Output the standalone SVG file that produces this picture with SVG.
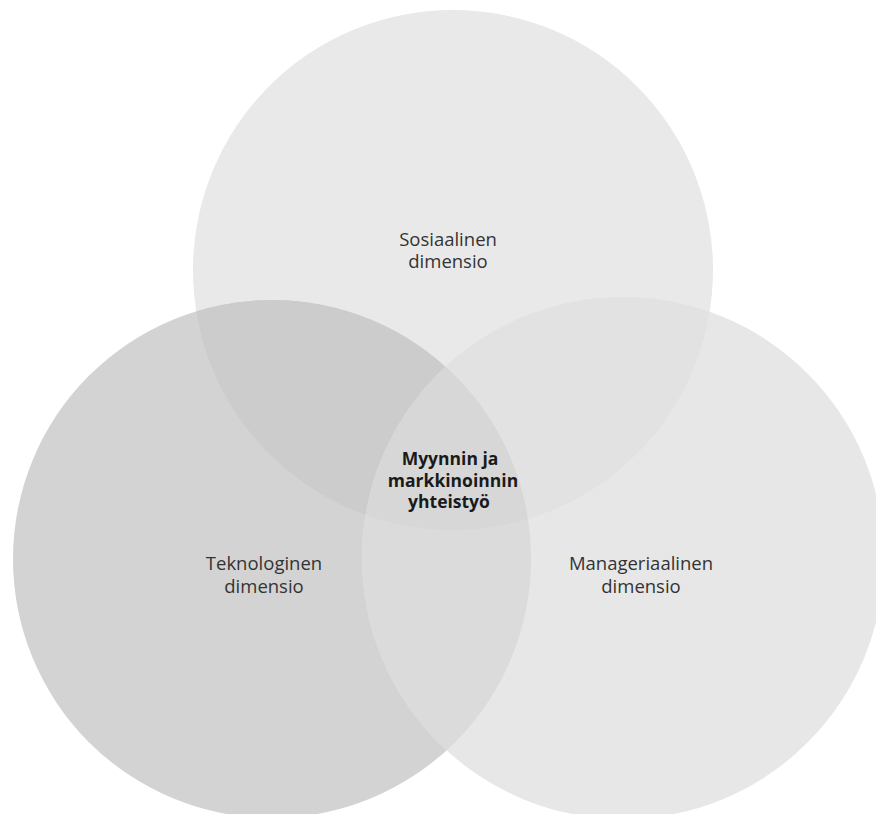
<svg xmlns="http://www.w3.org/2000/svg" width="876" height="814" viewBox="0 0 876 814">
  <style>
    .lbl { font-family: "Open Sans", "Liberation Sans", sans-serif; font-size: 18.5px; fill: #333333; text-anchor: middle; }
    .ctr { font-family: "Open Sans", "Liberation Sans", sans-serif; font-size: 17.5px; font-weight: bold; fill: #1a1a1a; text-anchor: middle; }
  </style>
  <defs>
    <circle id="cT" cx="453" cy="270" r="260"/>
    <circle id="cL" cx="272" cy="559" r="259"/>
    <circle id="cR" cx="623" cy="558" r="261"/>
    <clipPath id="clipT"><use href="#cT"/></clipPath>
    <clipPath id="clipL"><use href="#cL"/></clipPath>
  </defs>
  <rect width="876" height="814" fill="#ffffff"/>

  <g id="node-sosiaalinen">
    <use href="#cT" fill="#e9e9e9"/>
  </g>
  <g id="node-teknologinen">
    <use href="#cL" fill="#d3d3d3"/>
  </g>
  <g id="node-manageriaalinen">
    <use href="#cR" fill="#e7e7e7"/>
  </g>

  <g id="overlaps">
    <use href="#cL" fill="#cccccc" clip-path="url(#clipT)"/>
    <use href="#cR" fill="#e2e2e2" clip-path="url(#clipT)"/>
    <use href="#cR" fill="#dbdbdb" clip-path="url(#clipL)"/>
    <g clip-path="url(#clipT)">
      <use href="#cR" fill="#d7d7d7" clip-path="url(#clipL)"/>
    </g>
  </g>

  <g id="labels">
    <text class="lbl" x="448" y="246">Sosiaalinen</text>
    <text class="lbl" x="448" y="268">dimensio</text>
    <text class="lbl" x="264" y="570">Teknologinen</text>
    <text class="lbl" x="264" y="593">dimensio</text>
    <text class="lbl" x="641" y="570">Manageriaalinen</text>
    <text class="lbl" x="641" y="593">dimensio</text>
  </g>

  <g id="node-center">
    <text class="ctr" x="450" y="465">Myynnin ja</text>
    <text class="ctr" x="453" y="487">markkinoinnin</text>
    <text class="ctr" x="449" y="508">yhteistyö</text>
  </g>
</svg>
